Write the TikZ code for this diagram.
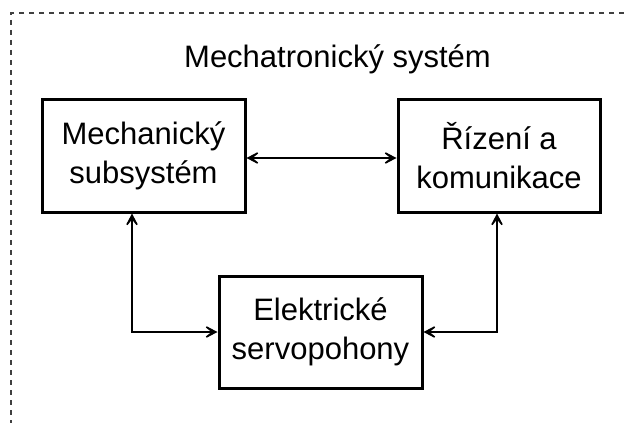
\documentclass[tikz,border=0pt]{standalone}
\usepackage{fontspec}
\setmainfont{Liberation Sans}
\usetikzlibrary{arrows.meta,positioning}

\begin{document}
\begin{tikzpicture}[x=1pt, y=-1pt,
	blok/.style={rectangle, draw=black, line width=3pt, minimum width=203pt,
		minimum height=113pt, align=center, inner sep=0pt,
		font=\fontsize{31}{39}\selectfont},
	spoj/.style={line width=1.5pt, {Stealth[length=18pt,width=19pt,inset=12pt]}-{Stealth[length=18pt,width=19pt,inset=12pt]}}]
	\useasboundingbox (0,0) rectangle (624,423);
	% hranice systemu
	\draw[dashed, dash pattern=on 5pt off 5pt, line width=1.6pt, black!75] (624,13) -- (11,13) -- (11,423);
	\node[font=\fontsize{31}{39}\selectfont, anchor=base] (nadpis) at (337.5,67) {Mechatronický systém};
	\node[blok] (mech) at (143.5,155.5) {Mechanický\\subsystém};
	\node[blok, minimum width=202pt] (rizeni) at (499,155.5) {Řízení a\\komunikace};
	\node[blok, minimum height=112pt] (servo) at (320.5,332) {Elektrické\\servopohony};
	\draw[spoj] ([yshift=-2.5pt]mech.east) -- ([yshift=-2.5pt]rizeni.west);
	\draw[spoj] ([xshift=-11.5pt]mech.south) |- (servo.west);
	\draw[spoj] ([xshift=-2pt]rizeni.south) |- (servo.east);
\end{tikzpicture}
\end{document}
